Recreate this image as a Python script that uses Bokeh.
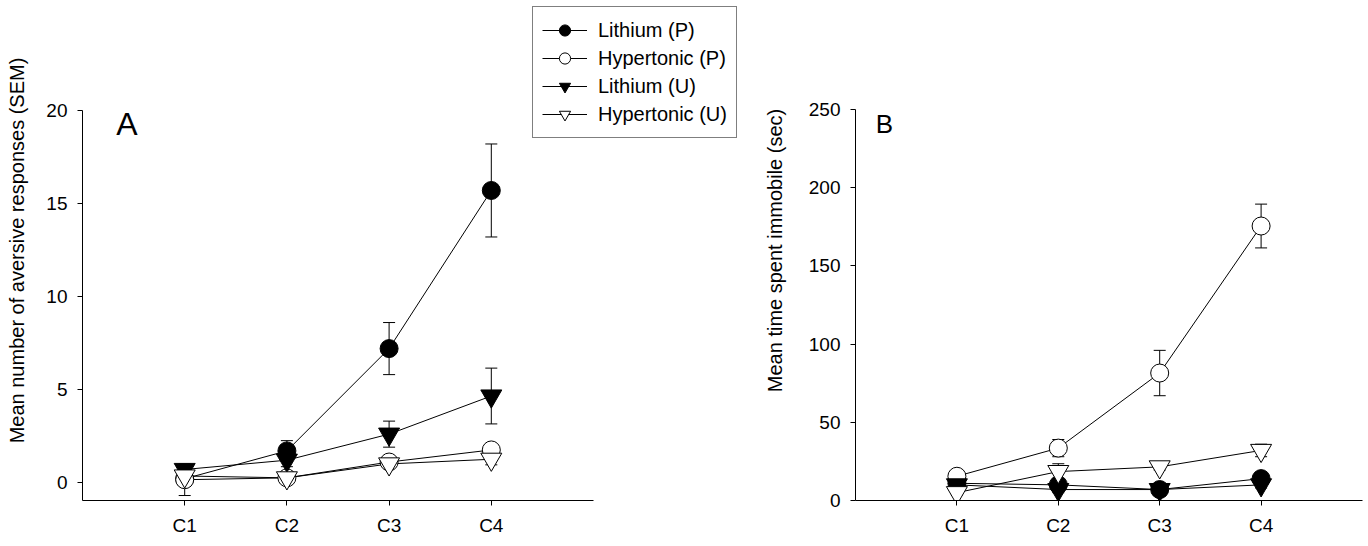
import numpy as np
from bokeh.plotting import figure
from bokeh.models import (ColumnDataSource, FixedTicker, Legend, LegendItem,
                          Whisker, TeeHead, Label, Range1d)
from bokeh.layouts import row
from bokeh.embed import file_html
from bokeh.resources import INLINE

# ---------------- data ----------------
conditions = ["C1", "C2", "C3", "C4"]
series_names = ["Lithium (P)", "Hypertonic (P)", "Lithium (U)", "Hypertonic (U)"]

# Panel A: mean number of aversive responses
aversive_lithium_p = [0.2, 1.7, 7.2, 15.7]
aversive_lithium_p_sem = [0.2, 0.55, 1.4, 2.5]
aversive_hyper_p = [0.15, 0.25, 1.1, 1.75]
aversive_hyper_p_sem = [0.85, 0.15, 0.2, 0.3]
aversive_lithium_u = [0.7, 1.2, 2.6, 4.65]
aversive_lithium_u_sem = [0.15, 0.35, 0.7, 1.5]
aversive_hyper_u = [0.35, 0.25, 1.0, 1.25]
aversive_hyper_u_sem = [0.15, 0.15, 0.15, 0.3]

# Panel B: mean time spent immobile (sec)
immobile_lithium_p = [11, 10, 7, 14]
immobile_lithium_p_sem = [2, 3, 1.5, 3]
immobile_hyper_p = [15.5, 33.5, 81.5, 175.5]
immobile_hyper_p_sem = [3, 5.5, 14.5, 14]
immobile_lithium_u = [10, 7, 7, 10]
immobile_lithium_u_sem = [2, 2, 1, 2]
immobile_hyper_u = [5, 18.5, 21.5, 32]
immobile_hyper_u_sem = [1.5, 5, 2, 4]

y_ticks_a = [0, 5, 10, 15, 20]
y_ticks_b = [0, 50, 100, 150, 200, 250]

FONT = "Liberation Sans"
xpos = list(range(1, len(conditions) + 1))

styles = [
    dict(marker="circle", fill="black", size=18),
    dict(marker="circle", fill="white", size=18),
    dict(marker="inverted_triangle", fill="black", size=21),
    dict(marker="inverted_triangle", fill="white", size=21),
]


def style_fig(p, yticks, ylabel, title_standoff):
    p.outline_line_color = None
    p.xgrid.visible = False
    p.ygrid.visible = False
    p.background_fill_color = "white"
    p.border_fill_color = "white"
    p.xaxis.ticker = FixedTicker(ticks=xpos)
    p.xaxis.major_label_overrides = {x: c for x, c in zip(xpos, conditions)}
    p.yaxis.ticker = FixedTicker(ticks=yticks)
    for ax in (p.xaxis, p.yaxis):
        ax.axis_line_color = "black"
        ax.axis_line_width = 1
        ax.major_tick_line_color = "black"
        ax.major_tick_in = 0
        ax.major_tick_out = 5
        ax.minor_tick_line_color = None
        ax.major_label_text_font = FONT
        ax.major_label_text_font_size = "19px"
        ax.major_label_text_color = "black"
    p.xaxis.major_label_standoff = 9
    p.yaxis.major_label_standoff = 10
    p.yaxis.axis_label = ylabel
    p.yaxis.axis_label_text_font = FONT
    p.yaxis.axis_label_text_font_size = "20px"
    p.yaxis.axis_label_text_font_style = "normal"
    p.yaxis.axis_label_text_color = "black"
    p.yaxis.axis_label_standoff = title_standoff


def draw(p, means, sems):
    line_rs, marker_rs = [], []
    sources = []
    for m, s in zip(means, sems):
        m = np.array(m, dtype=float)
        s = np.array(s, dtype=float)
        sources.append(ColumnDataSource(dict(x=xpos, y=m, upper=m + s, lower=m - s)))
    for src in sources:
        w = Whisker(source=src, base="x", upper="upper", lower="lower",
                    line_color="black", line_width=1, level="underlay",
                    upper_head=TeeHead(size=12, line_color="black", line_width=1),
                    lower_head=TeeHead(size=12, line_color="black", line_width=1))
        p.add_layout(w)
    for src in sources:
        line_rs.append(p.line("x", "y", source=src, line_color="black", line_width=1))
    for src, st in zip(sources, styles):
        marker_rs.append(p.scatter("x", "y", source=src, marker=st["marker"], size=st["size"],
                                   fill_color=st["fill"], line_color="black", line_width=1))
    return line_rs, marker_rs


H = 546
# Frames of both panels share the same top/bottom (row layout aligns them);
# each panel's visible axes are limited with `bounds`.
F_TOP, F_BOTTOM = 0, 500

# ---------------- Panel A ----------------
WA = 760
a_left, a_right = 82, 750
a_px_per_x = (593 - 82) / 5.0
a_px_per_y = (482 - 110) / 20.0
xa_end = (a_right - a_left) / a_px_per_x
ya_start = -(F_BOTTOM - 482) / a_px_per_y
ya_end = ya_start + (F_BOTTOM - F_TOP) / a_px_per_y

pa = figure(width=WA, height=H, x_range=Range1d(0, xa_end), y_range=Range1d(ya_start, ya_end),
            output_backend="svg", toolbar_location=None,
            min_border_left=a_left, min_border_right=WA - a_right,
            min_border_top=F_TOP, min_border_bottom=H - F_BOTTOM)
style_fig(pa, y_ticks_a, "Mean number of aversive responses (SEM)", 15)
pa.xaxis.bounds = (0, 5)
pa.yaxis.bounds = (ya_start, 20)
la, ma = draw(pa,
              [aversive_lithium_p, aversive_hyper_p, aversive_lithium_u, aversive_hyper_u],
              [aversive_lithium_p_sem, aversive_hyper_p_sem, aversive_lithium_u_sem, aversive_hyper_u_sem])
pa.add_layout(Label(x=0.33, y=18.3, text="A", text_font=FONT, text_font_size="32px",
                    text_color="black"))

legend = Legend(items=[LegendItem(label=n, renderers=[l, m]) for n, l, m in zip(series_names, la, ma)],
                location=(532 - a_left, F_BOTTOM - 138), orientation="vertical",
                border_line_color="black", border_line_width=1, background_fill_color="white",
                background_fill_alpha=1.0,
                label_text_font=FONT, label_text_font_size="20px", label_text_color="black",
                glyph_width=45, glyph_height=28, label_height=22, spacing=0,
                padding=9, label_standoff=11, margin=0)
pa.add_layout(legend)

# ---------------- Panel B ----------------
WB = 1368 - WA
b_left, b_right = 852 - WA, 1362 - WA
b_px_per_y = (F_BOTTOM - 109) / 250.0
pb = figure(width=WB, height=H, x_range=Range1d(0, 5),
            y_range=Range1d(0, (F_BOTTOM - F_TOP) / b_px_per_y),
            output_backend="svg", toolbar_location=None,
            min_border_left=b_left, min_border_right=WB - b_right,
            min_border_top=F_TOP, min_border_bottom=H - F_BOTTOM)
style_fig(pb, y_ticks_b, "Mean time spent immobile (sec)", 20)
pb.yaxis.bounds = (0, 250)
draw(pb,
     [immobile_lithium_p, immobile_hyper_p, immobile_lithium_u, immobile_hyper_u],
     [immobile_lithium_p_sem, immobile_hyper_p_sem, immobile_lithium_u_sem, immobile_hyper_u_sem])
pb.add_layout(Label(x=0.2, y=231, text="B", text_font=FONT, text_font_size="26px",
                    text_color="black"))

layout = row(pa, pb)
open("out.html", "w").write(file_html(layout, INLINE))
